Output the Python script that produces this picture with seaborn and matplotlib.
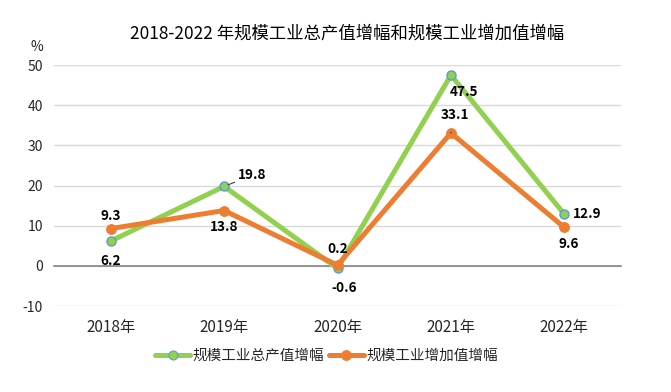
import matplotlib
matplotlib.use("Agg")
import matplotlib.pyplot as plt
import seaborn as sns
import pandas as pd

years = ["2018年", "2019年", "2020年", "2021年", "2022年"]
series_names = ["规模工业总产值增幅", "规模工业增加值增幅"]
output_growth = [6.2, 19.8, -0.6, 47.5, 12.9]
added_growth = [9.3, 13.8, 0.2, 33.1, 9.6]
y_ticks = [-10, 0, 10, 20, 30, 40, 50]
title = "2018-2022 年规模工业总产值增幅和规模工业增加值增幅"

sns.set_theme(style="white")
plt.rcParams["font.family"] = ["Noto Sans CJK SC", "DejaVu Sans"]
plt.rcParams["axes.unicode_minus"] = False

df = pd.DataFrame({
    "year": years * 2,
    "x": list(range(len(years))) * 2,
    "value": output_growth + added_growth,
    "series": [series_names[0]] * len(years) + [series_names[1]] * len(years),
})

green = "#92D050"
orange = "#ED7D31"

fig = plt.figure(figsize=(6.71, 3.92), dpi=100)
ax = fig.add_axes([0.0805, 0.219, 0.845, 0.615])

sns.lineplot(data=df, x="x", y="value", hue="series", palette=[green, orange],
             linewidth=3.6, ax=ax, legend=True, sort=False)
lines = ax.get_lines()
lines[0].set_marker("o"); lines[0].set_markersize(6.5)
lines[0].set_markerfacecolor(green); lines[0].set_markeredgecolor("#5B9BD5")
lines[0].set_markeredgewidth(1.0)
lines[1].set_marker("o"); lines[1].set_markersize(7)
lines[1].set_markerfacecolor(orange); lines[1].set_markeredgecolor(orange)
lines[0].set_zorder(3); lines[1].set_zorder(4)

ax.set_xlim(-0.5, len(years) - 0.5)
ax.set_ylim(y_ticks[0], y_ticks[-1])
ax.set_yticks(y_ticks)
ax.set_yticklabels([str(t) for t in y_ticks], fontsize=10)
ax.set_xticks(range(len(years)))
ax.set_xticklabels(years, fontsize=10)
ax.set_xticks([i - 0.5 for i in range(len(years) + 1)], minor=True)
ax.tick_params(axis="x", which="major", length=0, pad=38)
ax.tick_params(axis="x", which="minor", direction="in", length=4, color="#868686", width=1)
ax.tick_params(axis="y", length=0, pad=8)
ax.set_xlabel(""); ax.set_ylabel("")
ax.grid(axis="y", color="#D9D9D9", linewidth=1)
for s in ["left", "right", "top"]:
    ax.spines[s].set_visible(False)
ax.spines["bottom"].set_position(("data", 0))
ax.spines["bottom"].set_color("#868686")
ax.spines["bottom"].set_linewidth(1.2)
ax.spines["bottom"].set_zorder(2)

ax.text(-0.03, 1.075, "%", transform=ax.transAxes, fontsize=10, ha="center", va="center")
fig.text(0.517, 0.915, title, fontsize=12.5, ha="center", va="center", color="#000000")

lab = dict(fontsize=9.8, fontweight="bold", color="#000000", textcoords="offset points")
# green labels (offsets in points)
g_off = [(0, -14, "center", None), (10, 8, "left", True), (5, -14, "center", None),
         (-1, -12, "left", None), (6, 0, "left", None)]
for i, (dx, dy, ha, leader) in enumerate(g_off):
    kw = dict(arrowprops=dict(arrowstyle="-", color="#404040", lw=0.8, shrinkA=0, shrinkB=3)) if leader else {}
    ax.annotate(f"{output_growth[i]:.1f}", (i, output_growth[i]), xytext=(dx, dy),
                ha=ha, va="center", **lab, **kw, zorder=6)
o_off = [(0, 9, "center", None), (0, -12, "center", None), (0, 12, "center", None),
         (3, 13, "center", True), (3, -12, "center", None)]
for i, (dx, dy, ha, leader) in enumerate(o_off):
    kw = dict(arrowprops=dict(arrowstyle="-", color="#404040", lw=0.8, shrinkA=5, shrinkB=2)) if leader else {}
    ax.annotate(f"{added_growth[i]:.1f}", (i, added_growth[i]), xytext=(dx, dy),
                ha=ha, va="center", **lab, **kw, zorder=6)

handles, labels = ax.get_legend_handles_labels()
handles[0].set_marker("o"); handles[0].set_markersize(6.5)
handles[0].set_markerfacecolor(green); handles[0].set_markeredgecolor("#5B9BD5")
handles[1].set_marker("o"); handles[1].set_markersize(7)
handles[1].set_markerfacecolor(orange); handles[1].set_markeredgecolor(orange)
ax.legend_.remove()
fig.legend(handles, labels, loc="center", bbox_to_anchor=(0.487, 0.092), ncol=2,
           frameon=False, fontsize=10.5, handlelength=2.4, handletextpad=0.2,
           columnspacing=0.3)

fig.savefig("out.png", dpi=100, facecolor="white")
